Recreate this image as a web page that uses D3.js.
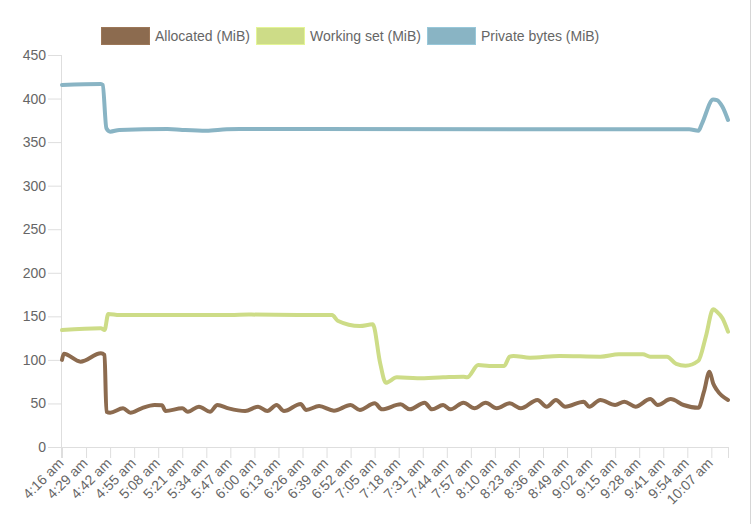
<!DOCTYPE html>
<html>
<head>
<meta charset="utf-8">
<script src="https://cdn.jsdelivr.net/npm/d3@7/dist/d3.min.js"></script>
<style>
  html, body { margin: 0; padding: 0; background: #fff; }
  svg { display: block; }
  text { font-family: "Liberation Sans", Arial, sans-serif; fill: #666; }
</style>
</head>
<body>
<svg id="chart" width="753" height="524"></svg>
<script>
// ---- Data (minutes after 4:16 am) ----
const tickLabels = ["4:16 am","4:29 am","4:42 am","4:55 am","5:08 am","5:21 am","5:34 am","5:47 am",
  "6:00 am","6:13 am","6:26 am","6:39 am","6:52 am","7:05 am","7:18 am","7:31 am","7:44 am","7:57 am",
  "8:10 am","8:23 am","8:36 am","8:49 am","9:02 am","9:15 am","9:28 am","9:41 am","9:54 am","10:07 am"];
const tickStepMinutes = 13;
const totalMinutes = 360;

const seriesNames = ["Allocated (MiB)", "Working set (MiB)", "Private bytes (MiB)"];
const seriesColors = ["#8c6b4f", "#cddc87", "#89b4c4"];

const allocatedMin = [0,1,10,21,23,24,26,33,37,43,50,54,56,65,68,74,80,84,90,99,106,111,116,120,129,132,139,147,156,161,169,173,183,188,196,200,206,210,217,223,229,235,242,248,257,262,267,272,282,285,291,299,304,310,318,322,329,336,344,347,350,352,354,360];
const allocatedVal = [100,107,98,107.5,105.6,40.5,39.4,44.4,39.4,44.4,48.2,48,41.3,44.4,40.5,46.3,40.5,48.2,44.4,41.3,46.3,41.3,48.2,41.3,49.4,42.5,47,41.7,48.2,42.5,50.1,43.2,49,43.2,50.9,43.2,48.2,43.2,50.9,44.4,50.9,44.4,50.1,44.4,54,46.3,54,46.3,52,46.3,54,48.2,52,46.3,55,48.2,55,48.2,45,63.5,86.4,73,65.4,54];

const workingMin = [0,21,23,25,31,91,101,129,146,149,161,168,172,175,181,192,206,217,219,225,231,239,242,244,253,269,291,301,314,318,327,332,337,344,348,352,354,357,360];
const workingVal = [134.3,136.2,134.3,152.7,151.5,151.5,152,151.5,151.5,145,138.9,140.8,96,73.8,80,78.9,80,80.7,80,94.1,93,93,103.7,104.5,102.5,104.5,103.7,106.4,106.4,103.7,103.7,95.3,93.3,99,126.6,158,155.3,147.7,132.4];

const privateMin = [0,21,22,24,26,31,57,65,78,89,96,339,344,346,352,354,357,360];
const privateVal = [415.6,416.7,415.6,365.8,362,364,365,364,363,364.7,365,364.7,363,371.6,399,398.3,390.6,375.4];

const yTicks = [0,50,100,150,200,250,300,350,400,450];

// ---- Layout ----
const svg = d3.select("#chart");
const plotLeft = 62, plotRight = 728, plotTop = 55, plotBottom = 447;

const x = d3.scaleLinear().domain([0, totalMinutes]).range([plotLeft, plotRight]);
const y = d3.scaleLinear().domain([0, 450]).range([plotBottom, plotTop]);

// page edge line
svg.append("line").attr("x1", 750.5).attr("x2", 750.5).attr("y1", 0).attr("y2", 524)
  .attr("stroke", "#d6d6d6").attr("stroke-width", 1);

const axisColor = "#dedede";

// Y axis
const yAxis = d3.axisLeft(y).tickValues(yTicks).tickSize(14).tickPadding(2);
const gy = svg.append("g").attr("transform", `translate(${plotLeft},0)`).call(yAxis);
gy.select(".domain").attr("stroke", axisColor).attr("d", `M-0.5,${plotTop}V${plotBottom + 11}`);
gy.selectAll(".tick line").attr("stroke", axisColor);
gy.selectAll(".tick text").style("font-size", "14px").attr("fill", "#666")
  .style("font-family", '"Liberation Sans", Arial, sans-serif');

// X axis
const tickVals = tickLabels.map((d, i) => i * tickStepMinutes);
const xAxis = d3.axisBottom(x).tickValues(tickVals.concat([totalMinutes]))
  .tickSize(11).tickFormat((d, i) => i < tickLabels.length ? tickLabels[i] : "");
const gx = svg.append("g").attr("transform", `translate(0,${plotBottom})`).call(xAxis);
gx.select(".domain").attr("stroke", axisColor).attr("d", `M${plotLeft},0.5H${plotRight}`);
gx.selectAll(".tick line").attr("stroke", axisColor);
gx.selectAll(".tick text")
  .style("font-size", "14px").attr("fill", "#666")
  .style("font-family", '"Liberation Sans", Arial, sans-serif')
  .attr("text-anchor", "end")
  .attr("dy", null)
  .attr("y", 0)
  .attr("transform", "translate(2,17) rotate(-45)");

// Lines
const line = d3.line().x(d => x(d[0])).y(d => y(d[1])).curve(d3.curveMonotoneX);
const seriesData = [
  d3.zip(allocatedMin, allocatedVal),
  d3.zip(workingMin, workingVal),
  d3.zip(privateMin, privateVal)
];
[0, 1, 2].forEach(i => {
  svg.append("path").datum(seriesData[i])
    .attr("fill", "none")
    .attr("stroke", seriesColors[i])
    .attr("stroke-width", 4)
    .attr("stroke-linejoin", "round")
    .attr("stroke-linecap", "round")
    .attr("d", line);
});

// Legend
const legendX = [101, 256, 427];
const legend = svg.append("g");
seriesNames.forEach((name, i) => {
  legend.append("rect").attr("x", legendX[i] + 0.5).attr("y", 27.5).attr("width", 48).attr("height", 17)
    .attr("fill", seriesColors[i]).attr("stroke", d3.color(seriesColors[i]).brighter(0.3)).attr("stroke-width", 1);
  legend.append("text").attr("x", legendX[i] + 54).attr("y", 40.5)
    .style("font-size", "14px").text(name);
});
</script>
</body>
</html>
